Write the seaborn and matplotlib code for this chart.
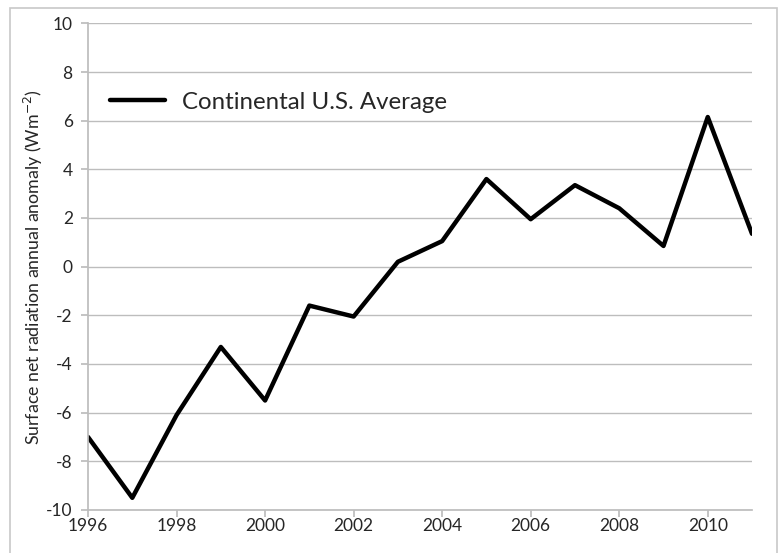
import matplotlib
matplotlib.use("Agg")
import matplotlib.pyplot as plt
import seaborn as sns
import pandas as pd
from matplotlib.patches import Rectangle

# valores
anos = [1996, 1997, 1998, 1999, 2000, 2001, 2002, 2003,
        2004, 2005, 2006, 2007, 2008, 2009, 2010, 2011]
anomalia = [-7.0, -9.5, -6.1, -3.3, -5.5, -1.6, -2.05, 0.2,
            1.05, 3.6, 1.95, 3.35, 2.4, 0.85, 6.15, 1.35]
ticks_x = [1996, 1998, 2000, 2002, 2004, 2006, 2008, 2010]
ticks_y = [-10, -8, -6, -4, -2, 0, 2, 4, 6, 8, 10]
serie = "Continental U.S. Average"

sns.set_theme(style="white")
plt.rcParams['font.family'] = ['Lato', 'DejaVu Sans']

df = pd.DataFrame({'Ano': anos, 'Anomalia': anomalia})

fig = plt.figure(figsize=(7.81, 5.53), dpi=100)
ax = fig.add_axes([0.1127, 0.0778, 0.8502, 0.880])

# moldura cinza do grafico
fig.patches.append(Rectangle((10 / 781, -0.01), 767 / 781, 1 - 8 / 553 + 0.01,
                             transform=fig.transFigure, fill=False,
                             edgecolor='#c8c8c8', linewidth=1.2))

sns.lineplot(data=df, x='Ano', y='Anomalia', ax=ax, color='black',
             linewidth=3.2, label=serie)

ax.set_xlim(1996, 2011)
ax.set_ylim(-10, 10)
ax.set_xticks(ticks_x)
ax.set_yticks(ticks_y)
ax.set_xticklabels([str(t) for t in ticks_x], fontsize=12.5)
ax.set_yticklabels([str(t) for t in ticks_y], fontsize=12.5)
ax.set_xlabel('')
ax.set_ylabel('Surface net radiation annual anomaly (Wm$^{-2}$)', fontsize=12.8, labelpad=1)

ax.yaxis.grid(True, color='#bdbdbd', linewidth=1)
ax.xaxis.grid(False)
for lado in ['top', 'right']:
    ax.spines[lado].set_visible(False)
ax.spines['left'].set_color('#bdbdbd')
ax.spines['bottom'].set_color('#bdbdbd')
ax.tick_params(axis='both', which='both', length=5, color='#bdbdbd',
               direction='out', left=True, bottom=True, pad=6)
ax.tick_params(axis='x', pad=1)

ax.legend(loc='center left', bbox_to_anchor=(0.0, 0.838), frameon=False,
          fontsize=17.3, handlelength=2.3, handletextpad=0.7)

fig.savefig('out.png', dpi=100)
